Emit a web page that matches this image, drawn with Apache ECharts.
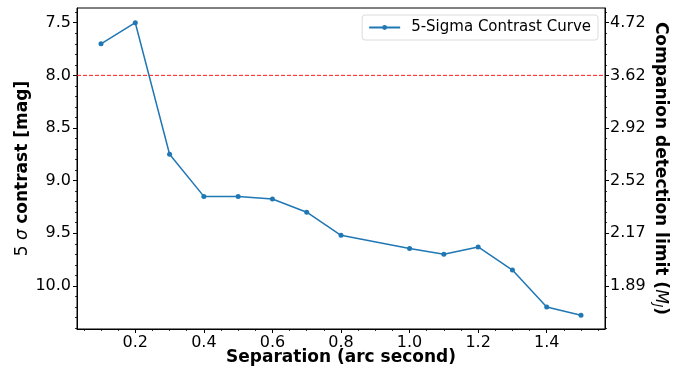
<!DOCTYPE html>
<html>
<head>
<meta charset="utf-8">
<script src="https://cdn.jsdelivr.net/npm/echarts@6/dist/echarts.min.js"></script>
<style>
  html, body { margin: 0; padding: 0; background: #fff; }
  #chart { width: 697px; height: 372px; }
</style>
</head>
<body>
<div id="chart"></div>
<script>
// Separation (arcsec) and 5-sigma contrast (mag)
const separation = [0.1, 0.2, 0.3, 0.4, 0.5, 0.6, 0.7, 0.8, 1.0, 1.1, 1.2, 1.3, 1.4, 1.5];
const contrast   = [7.70, 7.50, 8.75, 9.15, 9.15, 9.175, 9.30, 9.52, 9.645, 9.70, 9.63, 9.85, 10.20, 10.28];

// Tick positions and labels
const xTicks = [0.2, 0.4, 0.6, 0.8, 1.0, 1.2, 1.4];
const contrastTicks = [7.5, 8.0, 8.5, 9.0, 9.5, 10.0];
const massTickLabels = ['4.72', '3.62', '2.92', '2.52', '2.17', '1.89'];
const thresholdMag = 8.0;

const xRange = [0.03, 1.57];
const yRange = [7.36, 10.41];

function steps(from, to, step) {
  const out = [];
  for (let v = from; v <= to + 1e-9; v += step) out.push(Math.round(v * 1000) / 1000);
  return out;
}
const xMinor = steps(0.05, 1.55, 0.05);
const yMinor = steps(7.4, 10.4, 0.1);

const FONT = 'DejaVu Sans';
const black = '#000';
const RED = '#ff1a1a';

function majorY(position, labelCfg, extra) {
  return Object.assign({
    type: 'value', position: position, inverse: true,
    min: yRange[0], max: yRange[1],
    axisLine: { show: true, lineStyle: { color: black, width: 1 } },
    axisTick: { show: true, length: 4, lineStyle: { color: black, width: 1 }, customValues: contrastTicks },
    axisLabel: Object.assign({ show: true, customValues: contrastTicks, fontFamily: FONT, fontSize: 16, color: black }, labelCfg),
    splitLine: { show: false },
    nameMoveOverlap: false
  }, extra || {});
}
function minorY(position) {
  return {
    type: 'value', position: position, inverse: true,
    min: yRange[0], max: yRange[1],
    axisLine: { show: false },
    axisTick: { show: true, length: 2, lineStyle: { color: black, width: 0.8 }, customValues: yMinor },
    axisLabel: { show: false },
    splitLine: { show: false }
  };
}

const chart = echarts.init(document.getElementById('chart'), null, { renderer: 'canvas' });
chart.setOption({
  animation: false,
  backgroundColor: '#fff',
  grid: { left: 77, right: 92, top: 8, bottom: 43, outerBoundsMode: 'none',
          show: true, borderColor: black, borderWidth: 1, backgroundColor: 'transparent' },
  legend: {
    data: ['5-Sigma Contrast Curve'],
    right: 99, top: 15,
    itemWidth: 31, itemHeight: 6, itemGap: 0,
    padding: [5, 7, 5, 6],
    borderColor: '#dcdcdc', borderWidth: 1, borderRadius: 3,
    backgroundColor: '#fff',
    textStyle: { fontFamily: FONT, fontSize: 15, color: black, padding: [0, 0, 0, 6] }
  },
  xAxis: [
    {
      type: 'value', position: 'bottom', min: xRange[0], max: xRange[1],
      axisLine: { show: true, lineStyle: { color: black, width: 1 } },
      axisTick: { show: true, length: 4, lineStyle: { color: black, width: 1 }, customValues: xTicks },
      axisLabel: { customValues: xTicks, fontFamily: FONT, fontSize: 16, color: black, margin: 6,
                   formatter: v => v.toFixed(1) },
      splitLine: { show: false },
      name: 'Separation (arc second)', nameLocation: 'middle', nameGap: 20, nameMoveOverlap: false,
      nameTextStyle: { fontFamily: FONT, fontSize: 17, fontWeight: 'bold', color: black }
    },
    {
      type: 'value', position: 'bottom', min: xRange[0], max: xRange[1],
      axisLine: { show: false },
      axisTick: { show: true, length: 2, lineStyle: { color: black, width: 0.8 }, customValues: xMinor },
      axisLabel: { show: false }, splitLine: { show: false }
    }
  ],
  yAxis: [
    majorY('left', { margin: 6, formatter: v => v.toFixed(1) }, {
      name: '{n|5}{i| σ} {b|contrast [mag]}',
      nameLocation: 'middle', nameGap: 46, nameRotate: 90,
      nameTextStyle: {
        fontFamily: FONT, fontSize: 17, color: black,
        rich: {
          n: { fontFamily: FONT, fontSize: 17, color: black },
          i: { fontFamily: FONT, fontSize: 17, fontStyle: 'italic', color: black },
          b: { fontFamily: FONT, fontSize: 17, fontWeight: 'bold', color: black }
        }
      }
    }),
    minorY('left'),
    majorY('right', {
      margin: 5,
      formatter: v => {
        const i = contrastTicks.findIndex(t => Math.abs(t - v) < 1e-6);
        return i >= 0 ? massTickLabels[i] : '';
      }
    }, {
      name: '{b|Companion detection limit (}{i|M}{s|J}{b|)}',
      nameLocation: 'middle', nameGap: 46, nameRotate: -90,
      nameTextStyle: {
        fontFamily: FONT, fontSize: 17, color: black,
        rich: {
          b: { fontFamily: FONT, fontSize: 17, fontWeight: 'bold', color: black },
          i: { fontFamily: FONT, fontSize: 17, fontStyle: 'italic', color: black },
          s: { fontFamily: FONT, fontSize: 12, fontStyle: 'italic', color: black, verticalAlign: 'bottom', padding: [6, 0, 0, 0] }
        }
      }
    }),
    minorY('right')
  ],
  series: [
    {
      // detection threshold, spanning the full x range
      name: 'threshold',
      type: 'line',
      xAxisIndex: 0, yAxisIndex: 0,
      data: [[xRange[0], thresholdMag], [xRange[1], thresholdMag]],
      symbol: 'none', silent: true, z: 1,
      lineStyle: { color: RED, type: [4, 2], width: 1 },
      itemStyle: { color: RED }
    },
    {
      name: '5-Sigma Contrast Curve',
      type: 'line',
      xAxisIndex: 0, yAxisIndex: 0,
      data: separation.map((s, i) => [s, contrast[i]]),
      symbol: 'circle', symbolSize: 5, z: 3,
      itemStyle: { color: '#1f77b4' },
      lineStyle: { color: '#1f77b4', width: 1.5 }
    }
  ]
});
</script>
</body>
</html>
